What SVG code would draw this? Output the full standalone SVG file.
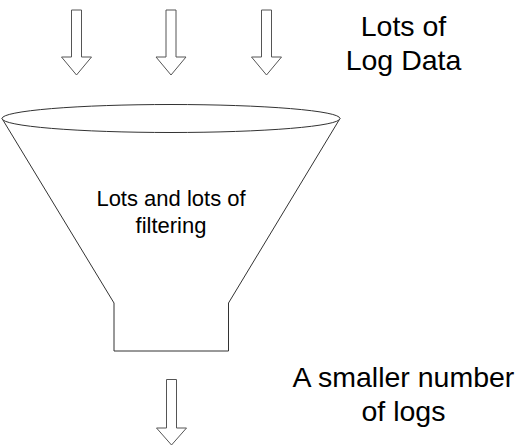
<svg xmlns="http://www.w3.org/2000/svg" width="523" height="447" viewBox="0 0 523 447">
<style>
.arr{fill:#fff;stroke:#555;stroke-width:1}
.fun{fill:#fff;stroke:#333;stroke-width:1}
.t{font-family:"Liberation Sans",Arial,sans-serif;fill:#000;text-anchor:middle}
</style>
<rect width="523" height="447" fill="#fff"/>
<g id="connectors">
<polygon id="arrow1" class="arr" points="71.5,10 81.5,10 81.5,57 91.5,57 76.5,75 61.5,57 71.5,57"/>
<polygon id="arrow2" class="arr" points="166,10 176,10 176,57 186,57 171,75 156,57 166,57"/>
<polygon id="arrow3" class="arr" points="261.5,10 271.5,10 271.5,57 281.5,57 266.5,75 251.5,57 261.5,57"/>
<polygon id="arrow4" class="arr" points="166.5,379.5 176.5,379.5 176.5,428 186.5,428 171.5,445 156.5,428 166.5,428"/>
</g>
<g id="funnel">
<path class="fun" d="M2,118.5 L114,303 L114,351 L228.5,351 L228.5,303 L340,118.5"/>
<ellipse class="fun" cx="171" cy="118.5" rx="169" ry="14"/>
<text class="t" font-size="22" x="171" y="206">Lots and lots of</text>
<text class="t" font-size="22" x="171" y="233">filtering</text>
</g>
<g id="label-top">
<text class="t" font-size="28.5" x="403.5" y="36">Lots of</text>
<text class="t" font-size="28.5" x="403.5" y="70">Log Data</text>
</g>
<g id="label-bottom">
<text class="t" font-size="28.5" x="403.5" y="387">A smaller number</text>
<text class="t" font-size="28.5" x="403.5" y="421">of logs</text>
</g>
</svg>
